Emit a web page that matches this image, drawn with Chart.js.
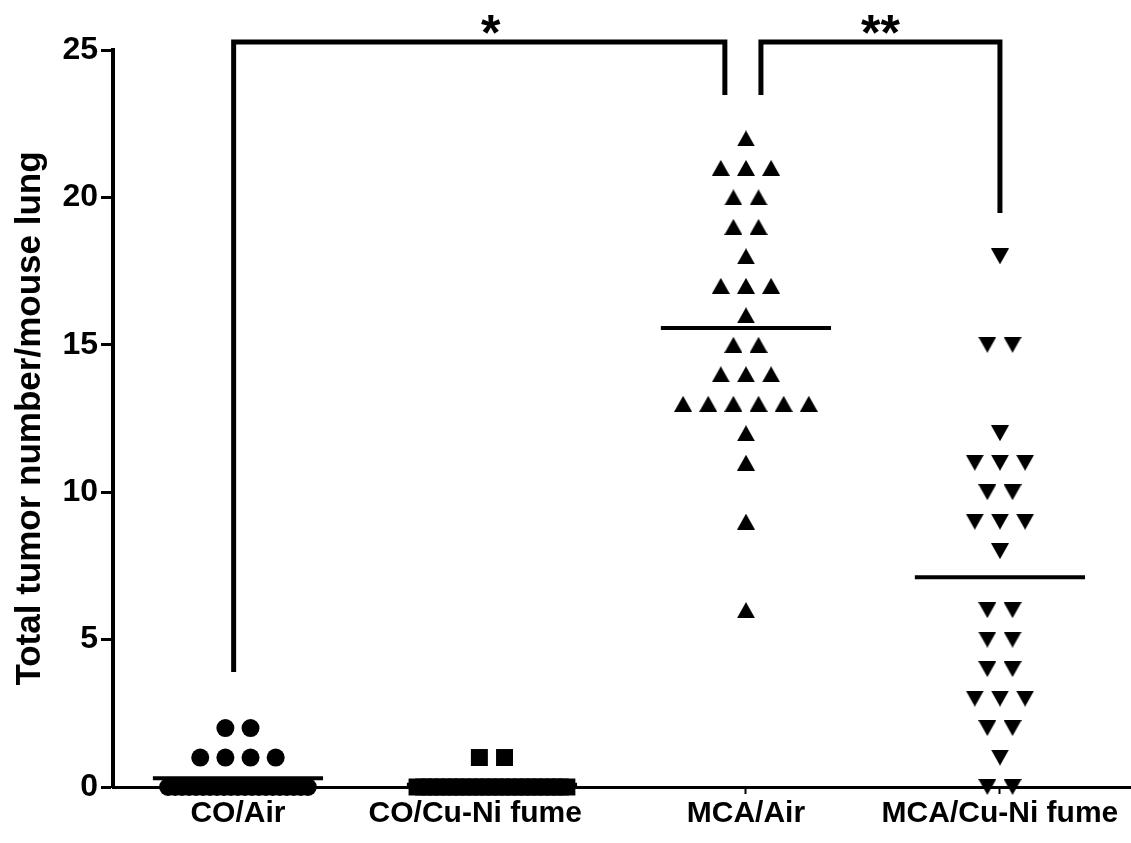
<!DOCTYPE html>
<html>
<head>
<meta charset="utf-8">
<script src="https://cdn.jsdelivr.net/npm/chart.js@4.4.1/dist/chart.umd.min.js"></script>
<style>
  html, body { margin: 0; padding: 0; overflow: hidden; background: #fff; }
  canvas { display: block; }
</style>
</head>
<body>
<canvas id="tumors" width="1131" height="843"></canvas>
<script>
const groups = ['CO/Air', 'CO/Cu-Ni fume    ', 'MCA/Air', 'MCA/Cu-Ni fume']
const yTicks = [0, 5, 10, 15, 20, 25]

// tumours counted per mouse lung
const coAir = [0, 0, 0, 0, 0, 0, 0, 0, 0, 0, 0, 0, 0, 0, 0, 0, 0, 0, 0, 0, 0,
  1, 1, 1, 1, 2, 2]
const coFume = [0, 0, 0, 0, 0, 0, 0, 0, 0, 0, 0, 0, 0, 0, 0, 0, 0, 0, 0, 0, 0, 0, 0, 0,
  1, 1]
const mcaAir = [22, 21, 21, 21, 20, 20, 19, 19, 18, 17, 17, 17, 16, 15, 15,
  14, 14, 14, 13, 13, 13, 13, 13, 13, 12, 11, 9, 6]
const mcaFume = [18, 15, 15, 12, 11, 11, 11, 10, 10, 9, 9, 9, 8, 6, 6,
  5, 5, 4, 4, 3, 3, 3, 2, 2, 1, 0, 0]

// significance brackets (x in group units, y in tumour counts)
const bracket1X = [0.983, 0.983, 2.917, 2.917]
const bracket1Y = [3.9, 25.27, 25.27, 23.47]
const bracket2X = [3.059, 3.059, 4.0, 4.0]
const bracket2Y = [23.47, 25.27, 25.27, 19.47]
const stars = ['*', '**']
const starX = [1.995, 3.53]

// triangles drawn into small canvases so the box, not the centroid, sits on the value
function triangle(up) {
  const c = document.createElement('canvas')
  c.width = 18
  c.height = 16
  const g = c.getContext('2d')
  g.fillStyle = '#000'
  g.beginPath()
  if (up) {
    g.moveTo(9, 0); g.lineTo(18, 16); g.lineTo(0, 16)
  } else {
    g.moveTo(0, 0); g.lineTo(18, 0); g.lineTo(9, 16)
  }
  g.closePath()
  g.fill()
  return c
}

const series = [coAir, coFume, mcaAir, mcaFume]
const markers = ['circle', 'rect', triangle(true), triangle(false)]
const markerSize = [9, 12, 9, 9]
const packWidth = [0.55, 0.59, 0.6, 0.6]

// lay equal values side by side, squeezing long rows
function spread(values, center, step, maxWidth) {
  const rows = {}
  values.forEach(v => { (rows[v] = rows[v] || []).push(v) })
  const pts = []
  Object.keys(rows).forEach(k => {
    const n = rows[k].length
    const s = n > 1 ? Math.min(step, maxWidth / (n - 1)) : step
    rows[k].forEach((v, i) => pts.push({ x: center + (i - (n - 1) / 2) * s, y: v }))
  })
  return pts
}

const mean = arr => arr.reduce((a, b) => a + b, 0) / arr.length

const datasets = []
series.forEach((vals, i) => {
  datasets.push({
    type: 'scatter',
    data: spread(vals, i + 1, 0.099, packWidth[i]),
    pointStyle: markers[i],
    pointRadius: markerSize[i],
    pointBackgroundColor: '#000',
    pointBorderWidth: 0,
    clip: false,
    order: 2
  })
})
series.forEach((vals, i) => {
  const m = mean(vals)
  datasets.push({
    type: 'line',
    data: [{ x: i + 1 - 0.335, y: m }, { x: i + 1 + 0.335, y: m }],
    borderColor: '#000',
    borderWidth: 4,
    pointRadius: 0,
    clip: false,
    order: 1
  })
})
;[[bracket1X, bracket1Y], [bracket2X, bracket2Y]].forEach(([bx, by]) => {
  datasets.push({
    type: 'line',
    data: bx.map((x, i) => ({ x: x, y: by[i] })),
    borderColor: '#000',
    borderWidth: 5,
    borderJoinStyle: 'miter',
    borderCapStyle: 'butt',
    pointRadius: 0,
    clip: false,
    order: 1
  })
})

const starPlugin = {
  id: 'stars',
  afterDatasetsDraw(chart) {
    const { ctx, scales: { x, y } } = chart
    ctx.save()
    ctx.fillStyle = '#000'
    ctx.font = 'bold 50px "Liberation Sans", Arial, sans-serif'
    ctx.textAlign = 'center'
    ctx.textBaseline = 'alphabetic'
    stars.forEach((s, i) => ctx.fillText(s, x.getPixelForValue(starX[i]), y.getPixelForValue(25)))
    ctx.restore()
  }
}

Chart.defaults.font.family = '"Liberation Sans", Arial, sans-serif'
Chart.defaults.font.weight = 'bold'
Chart.defaults.font.size = 30
Chart.defaults.color = '#000'

new Chart(document.getElementById('tumors'), {
  type: 'scatter',
  data: { datasets: datasets },
  plugins: [starPlugin],
  options: {
    responsive: false,
    animation: false,
    layout: { autoPadding: false, padding: { top: 50, right: 0, left: 0, bottom: 0 } },
    plugins: { legend: { display: false }, tooltip: { enabled: false } },
    scales: {
      x: {
        type: 'linear',
        min: 0.508,
        max: 4.516,
        afterBuildTicks: scale => { scale.ticks = groups.map((g, i) => ({ value: i + 1 })) },
        afterFit: scale => {
          scale.height = 56
          scale.paddingLeft = 0
          scale.paddingRight = 0
        },
        ticks: {
          autoSkip: false,
          maxRotation: 0,
          padding: 2,
          callback: v => groups[v - 1]
        },
        grid: { drawOnChartArea: false, tickLength: 7, tickWidth: 2, tickColor: '#000' },
        border: { color: '#000', width: 3 }
      },
      y: {
        min: 0,
        max: 25,
        afterBuildTicks: scale => { scale.ticks = yTicks.map(v => ({ value: v })) },
        afterFit: scale => { scale.width = 113 },
        ticks: { padding: 3, font: { size: 32 } },
        grid: { drawOnChartArea: false, tickLength: 12, tickWidth: 3, tickColor: '#000' },
        border: { color: '#000', width: 4 },
        title: {
          display: true,
          text: 'Total tumor number/mouse lung',
          font: { size: 35, weight: 'bold' },
          padding: { top: 9, bottom: 0 }
        }
      }
    }
  }
})
</script>
</body>
</html>
